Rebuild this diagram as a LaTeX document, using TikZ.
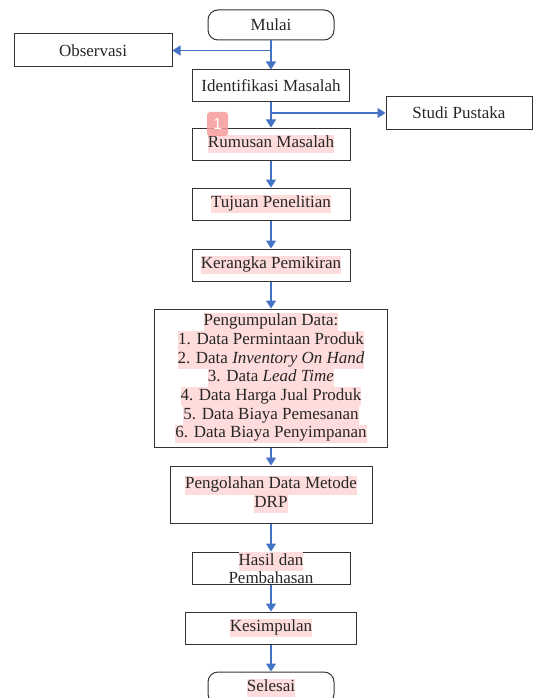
\documentclass[tikz,border=0pt]{standalone}
\usepackage{fontspec}
\setmainfont{Liberation Serif}
\setsansfont{Liberation Sans}
\usetikzlibrary{arrows.meta}
\definecolor{flowblue}{HTML}{4472C4}
\definecolor{hlpink}{HTML}{FFDCDC}
\definecolor{notered}{HTML}{F79A9A}
\newcommand{\hilite}[1]{{\setlength{\fboxsep}{0pt}\colorbox{hlpink}{\strut #1}}}
\tikzset{
  box/.style={draw=black!80, line width=1pt, align=center, inner sep=0pt, text=black!85},
  term/.style={box, rounded corners=10pt},
  flow/.style={draw=flowblue, line width=1.5pt, -{Triangle[length=8pt,width=10pt]}}
}

\begin{document}
\begin{tikzpicture}[x=1pt, y=-1pt, font=\fontsize{17}{18.7}\selectfont]
  \useasboundingbox (0,0) rectangle (535,698);

  \node [term, minimum width=126pt, minimum height=30pt] (mulai) at (271,25) {Mulai};
  \node [box, minimum width=158pt, minimum height=33pt] (obs) at (93,50.5) {Observasi};
  \node [box, minimum width=157pt, minimum height=32pt] (ident) at (271,86) {Identifikasi Masalah};
  \node [box, minimum width=146pt, minimum height=32pt] (studi) at (459,113) {Studi Pustaka};
  \node [box, minimum width=158pt, minimum height=32pt] (rumus) at (271,144) {\hilite{Rumusan Masalah}};
  \node [box, minimum width=158pt, minimum height=32pt] (tujuan) at (271,204) {\hilite{Tujuan Penelitian}};
  \node [box, minimum width=158pt, minimum height=32pt] (kerangka) at (271,265) {\hilite{Kerangka Pemikiran}};
  \node [box, minimum width=233pt, minimum height=138pt] (kumpul) at (271,378)
    {\hilite{Pengumpulan Data:}\\
     \hilite{1. Data Permintaan Produk}\\
     \hilite{2. Data \textit{Inventory On Hand}}\\
     \hilite{3. Data \textit{Lead Time}}\\
     \hilite{4. Data Harga Jual Produk}\\
     \hilite{5. Data Biaya Pemesanan}\\
     \hilite{6. Data Biaya Penyimpanan}};
  \node [box, minimum width=202pt, minimum height=57pt] (olah) at (271,494.5)
    {\hilite{Pengolahan Data Metode}\\\hilite{DRP}};
  \node [box, minimum width=158pt, minimum height=32pt] (hasil) at (271,568) {};
  \node [align=center, inner sep=0pt, text=black!85] (hasiltext) at (hasil.center)
    {\hilite{Hasil dan}\\Pembahasan};
  \node [box, minimum width=171pt, minimum height=32pt] (simpul) at (271,628) {\hilite{Kesimpulan}};
  \node [term, minimum width=126pt, minimum height=32pt] (selesai) at (271,688) {\hilite{Selesai}};

  \draw [flow] (mulai) -- (ident);
  \draw [flow] (mulai.south |- obs.east) -- (obs.east);
  \draw [flow] (ident) -- (rumus);
  \draw [flow] (ident.south |- studi.west) -- (studi.west);
  \draw [flow] (rumus) -- (tujuan);
  \draw [flow] (tujuan) -- (kerangka);
  \draw [flow] (kerangka) -- (kumpul);
  \draw [flow] (kumpul) -- (olah);
  \draw [flow] (olah) -- (hasil);
  \draw [flow] (hasil) -- (simpul);
  \draw [flow] (simpul) -- (selesai);

  \node [fill=notered, fill opacity=0.85, text opacity=1, text=white, rounded corners=3pt,
    minimum width=21pt, minimum height=24pt, inner sep=0pt,
    font=\sffamily\fontsize{16}{16}\selectfont] (note) at (217.5,124) {1};
\end{tikzpicture}
\end{document}
